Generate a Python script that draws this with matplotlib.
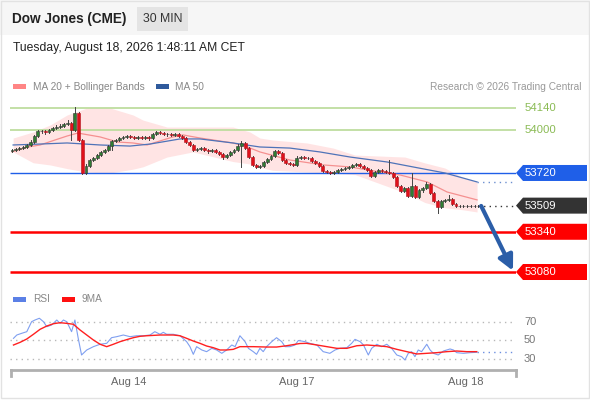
import numpy as np
import matplotlib
matplotlib.use("Agg")
import matplotlib.pyplot as plt
import matplotlib.transforms as mtrans
from matplotlib.patches import Rectangle, Polygon

plt.rcParams['font.family'] = ['Liberation Sans', 'DejaVu Sans']

# ---- data ----
opens = [53862, 53869, 53875, 53881, 53888, 53901, 53920, 53959, 53991, 53991,
         53985, 53998, 54011, 54017, 54024, 54037, 54043, 53998, 54108, 53933,
         53720, 53765, 53804, 53817, 53836, 53856, 53869, 53894, 53927, 53933,
         53946, 53953, 53959, 53953, 53946, 53953, 53946, 53953, 53946, 53972,
         53985, 53978, 53972, 53972, 53966, 53972, 53959, 53946, 53920, 53901,
         53869, 53875, 53881, 53869, 53862, 53869, 53856, 53843, 53823, 53836,
         53856, 53869, 53894, 53914, 53881, 53823, 53772, 53759, 53765, 53791,
         53810, 53830, 53862, 53849, 53804, 53785, 53778, 53772, 53817, 53823,
         53817, 53817, 53798, 53785, 53765, 53733, 53726, 53720, 53726, 53739,
         53746, 53752, 53759, 53772, 53778, 53765, 53752, 53739, 53700, 53726,
         53739, 53733, 53726, 53720, 53694, 53636, 53604, 53623, 53571, 53636,
         53565, 53610, 53623, 53649, 53591, 53539, 53500, 53539, 53546, 53552,
         53520, 53507, 53507, 53507, 53507, 53507, 53507]
closes = [53869, 53875, 53881, 53888, 53901, 53920, 53959, 53991, 53991, 53985,
          53998, 54011, 54017, 54024, 54037, 54043, 53998, 54108, 53933, 53720,
          53765, 53804, 53817, 53836, 53856, 53869, 53894, 53927, 53933, 53946,
          53953, 53959, 53953, 53946, 53953, 53946, 53953, 53946, 53972, 53985,
          53978, 53972, 53972, 53966, 53972, 53959, 53946, 53920, 53901, 53869,
          53875, 53881, 53869, 53862, 53869, 53856, 53843, 53823, 53836, 53856,
          53869, 53894, 53914, 53881, 53823, 53772, 53759, 53765, 53791, 53810,
          53830, 53862, 53849, 53804, 53785, 53778, 53772, 53817, 53823, 53817,
          53817, 53798, 53785, 53765, 53733, 53726, 53720, 53726, 53739, 53746,
          53752, 53759, 53772, 53778, 53765, 53752, 53739, 53700, 53726, 53739,
          53733, 53726, 53720, 53694, 53636, 53604, 53623, 53571, 53636, 53565,
          53610, 53623, 53649, 53591, 53539, 53500, 53539, 53546, 53552, 53520,
          53507, 53507, 53507, 53507, 53507, 53507, 53509]
highs = [53878, 53884, 53890, 53897, 53910, 53930, 53966, 54000, 54000, 53998,
         54007, 54020, 54028, 54034, 54046, 54060, 54050, 54146, 54115, 53940,
         53775, 53812, 53825, 53845, 53865, 53878, 53902, 53935, 53942, 53954,
         53962, 53968, 53966, 53960, 53960, 53960, 53962, 53960, 53980, 53992,
         53992, 53986, 53980, 53978, 53980, 53978, 53965, 53952, 53926, 53908,
         53884, 53890, 53888, 53876, 53878, 53875, 53862, 53850, 53845, 53865,
         53878, 53905, 53925, 53920, 53888, 53830, 53780, 53772, 53800, 53818,
         53838, 53870, 53870, 53855, 53810, 53792, 53785, 53830, 53830, 53830,
         53826, 53824, 53804, 53792, 53770, 53740, 53732, 53734, 53746, 53754,
         53760, 53766, 53780, 53786, 53785, 53770, 53758, 53746, 53734, 53746,
         53746, 53740, 53804, 53728, 53700, 53645, 53632, 53630, 53720, 53642,
         53618, 53630, 53660, 53656, 53598, 53546, 53546, 53554, 53575, 53558,
         53526, 53513, 53513, 53513, 53513, 53513, 53515]
lows = [53855, 53862, 53868, 53875, 53882, 53895, 53914, 53953, 53980, 53975,
        53978, 53990, 54004, 54010, 54017, 54030, 53933, 53990, 53925, 53715,
        53714, 53758, 53797, 53810, 53830, 53849, 53862, 53866, 53920, 53927,
        53940, 53946, 53944, 53938, 53940, 53938, 53940, 53935, 53940, 53965,
        53970, 53965, 53962, 53958, 53960, 53952, 53938, 53912, 53894, 53860,
        53862, 53868, 53860, 53852, 53855, 53848, 53835, 53810, 53815, 53830,
        53850, 53862, 53759, 53872, 53815, 53765, 53750, 53750, 53758, 53784,
        53803, 53823, 53840, 53796, 53778, 53770, 53765, 53765, 53810, 53810,
        53808, 53790, 53778, 53758, 53726, 53718, 53714, 53714, 53720, 53732,
        53740, 53746, 53752, 53765, 53758, 53745, 53730, 53692, 53694, 53720,
        53726, 53718, 53712, 53686, 53628, 53596, 53596, 53565, 53565, 53558,
        53558, 53600, 53615, 53584, 53530, 53461, 53492, 53530, 53540, 53512,
        53500, 53500, 53500, 53500, 53500, 53500, 53500]

ma20_x = [0, 4.3, 7.6, 11.6, 14.9, 17.8, 23.8, 28.6, 32.7, 36.5, 43.5, 46.2,
          50.8, 59.7, 63.0, 67.0, 75.1, 84.1, 91.4, 99.5, 104.9, 112.2, 117.6, 125.7]
ma20_v = [53856, 53888, 53901, 53933, 53959, 53978, 53953, 53920, 53914, 53901,
          53953, 53966, 53946, 53914, 53894, 53856, 53804, 53772, 53759, 53726,
          53707, 53662, 53597, 53546]

ma50_x = [0.3, 7.6, 14.9, 23.8, 31.9, 37.3, 45.4, 50.8, 59.7, 67.0, 75.1, 83.2,
          91.4, 101.4, 108.4, 117.0, 125.7]
ma50_v = [53901, 53907, 53914, 53901, 53894, 53907, 53940, 53940, 53914, 53888,
          53881, 53856, 53823, 53791, 53759, 53720, 53662]

bb_up_x = [0.3, 5.7, 10.3, 14.9, 20.3, 26.5, 32.7, 35.4, 41.9, 48.9, 59.7, 64.3,
           67.0, 70.5, 79.7, 86.8, 92.7, 106.2, 111.6, 117.0, 121.6, 125.7]
bb_up_v = [53946, 53985, 54030, 54095, 54140, 54140, 54095, 54062, 54017, 54017,
           54017, 53985, 53946, 53933, 53914, 53881, 53836, 53823, 53785, 53752,
           53694, 53662]
bb_lo_x = [0.3, 4.1, 10.3, 19.2, 26.5, 34.6, 41.9, 47.3, 55.4, 63.5, 68.9, 79.7,
           85.9, 94.1, 101.6, 108.1, 115.1, 122.4, 125.7]
bb_lo_v = [53856, 53791, 53772, 53726, 53720, 53752, 53823, 53869, 53804, 53785,
           53739, 53726, 53720, 53707, 53675, 53558, 53500, 53481, 53468]

rsi_x = [0.4, 1.3, 2.6, 4.0, 5.3, 6.2, 7.4, 8.5, 9.4, 10.7, 12.1, 13.0, 13.9, 14.8,
         16.1, 17.0, 17.9, 18.8, 20.2, 22.0, 23.8, 25.6, 26.9, 28.3, 30.1, 31.9,
         33.7, 35.5, 37.3, 38.6, 40.0, 40.9, 41.8, 43.6, 45.4, 47.2, 48.1, 49.0,
         49.9, 51.3, 52.6, 54.0, 55.3, 56.7, 58.0, 59.4, 60.3, 61.6, 63.0, 63.9,
         65.2, 66.1, 67.0, 67.9, 68.8, 70.2, 71.5, 72.9, 73.8, 75.1, 76.5, 77.4,
         79.2, 80.5, 82.4, 84.1, 85.9, 87.3, 88.6, 90.5, 91.8, 92.7, 94.1, 95.0,
         96.3, 97.2, 98.6, 99.9, 101.3, 102.6, 104.0, 105.3, 106.2, 107.1, 108.0,
         108.9, 109.8, 110.7, 112.1, 113.0, 113.9, 115.2, 116.6, 118.4, 119.3,
         120.2, 122.0, 123.8, 125.6]
rsi_v = [51.8, 55.4, 57.2, 59.0, 69.8, 71.6, 73.5, 69.8, 64.4, 66.2, 71.6, 68.0, 71.6,
         69.8, 59.0, 71.6, 51.8, 33.8, 39.2, 42.8, 45.4, 46.4, 52.5, 53.6, 55.4, 53.6,
         54.6, 54.6, 55.4, 59.0, 56.2, 58.3, 56.2, 56.2, 54.6, 48.2, 42.8, 34.5,
         42.8, 39.2, 37.4, 41.0, 39.2, 35.6, 39.2, 44.6, 42.8, 54.6, 48.2, 41.0,
         37.4, 34.5, 41.0, 37.4, 42.8, 48.2, 52.5, 48.2, 42.8, 42.8, 44.6, 49.5,
         48.2, 46.4, 44.6, 37.4, 35.6, 39.2, 41.0, 41.7, 46.4, 50.7, 48.2, 44.6,
         33.8, 41.0, 45.4, 42.8, 45.4, 41.0, 33.8, 32.0, 28.4, 35.6, 37.4,
         32.0, 39.2, 37.4, 45.4, 39.2, 35.6, 33.8, 38.1, 40.3, 39.2,
         36.3, 35.6, 36.3, 36.7]

ma9_x = [0.4, 2.2, 4.0, 5.8, 7.6, 9.4, 11.2, 13.0, 14.8, 16.6, 18.4, 20.2, 22.0,
         23.8, 25.6, 27.4, 29.2, 31.0, 32.8, 34.6, 36.4, 40.0, 43.6, 45.4, 47.2,
         49.0, 50.8, 52.6, 54.4, 56.2, 58.0, 59.8, 61.6, 65.2, 68.8, 71.5, 74.2,
         77.8, 79.6, 82.4, 85.1, 87.8, 90.5, 93.2, 95.9, 98.6, 101.3, 104.0, 106.7,
         109.4, 112.1, 114.8, 117.5, 120.2, 122.9, 125.6]
ma9_v = [44.6, 47.5, 51.1, 56.2, 61.6, 65.1, 67.6, 68.7, 68.0, 67.0, 60.8, 55.4, 50.0,
         45.4, 42.8, 45.4, 48.2, 50.4, 52.5, 54.0, 54.6, 55.4, 55.4, 54.6, 51.8,
         48.9, 46.4, 43.5, 41.7, 39.2, 39.2, 39.9, 42.8, 42.8, 42.4, 42.4, 43.8,
         46.2, 46.4, 44.6, 42.8, 41.0, 41.0, 43.8, 44.6, 43.8, 42.8, 39.9, 37.4,
         34.9, 35.6, 36.3, 37.4, 38.1, 37.4, 37.4]

levels = [54140, 54000, 53720, 53340, 53080]
last_price = 53509
rsi_ticks = [70, 50, 30]
day_pos = [31.6, 77.0, 122.7]
day_labels = ["Aug 14", "Aug 17", "Aug 18"]

# ---- figure ----
W, H = 590, 400
fig = plt.figure(figsize=(W / 100, H / 100), dpi=100)
fig.patch.set_facecolor("white")


def fx(px):
    return px / W


def fy(py):
    return 1 - py / H


# header band and border
fig.patches.append(Rectangle((0, fy(35)), 1, 35 / H, transform=fig.transFigure,
                             facecolor="#f6f6f6", edgecolor="none", zorder=0))
fig.patches.append(Rectangle((fx(137), fy(31)), 51 / W, 24 / H, transform=fig.transFigure,
                             facecolor="#e4e4e4", edgecolor="none", zorder=1))
fig.patches.append(Rectangle((fx(0.5), fy(398)), 588 / W, 397.5 / H, transform=fig.transFigure,
                             facecolor="none", edgecolor="#e2e2e2", lw=1, zorder=1))

fig.text(fx(12), fy(19), "Dow Jones (CME)", fontsize=9.8, fontweight="bold",
         color="#222222", va="center")
fig.text(fx(162.5), fy(19), "30 MIN", fontsize=8.8, color="#333333", va="center", ha="center")
fig.text(fx(13), fy(48), "Tuesday, August 18, 2026 1:48:11 AM CET", fontsize=8.7,
         color="#222222", va="center")

# legends
fig.patches.append(Rectangle((fx(13), fy(89)), 13 / W, 5 / H, transform=fig.transFigure,
                             facecolor="#ff8585", edgecolor="none"))
fig.text(fx(33), fy(86.5), "MA 20 + Bollinger Bands", fontsize=7.3, color="#888888", va="center")
fig.patches.append(Rectangle((fx(156), fy(89)), 13 / W, 5 / H, transform=fig.transFigure,
                             facecolor="#2f5a9c", edgecolor="none"))
fig.text(fx(175), fy(86.5), "MA 50", fontsize=7.3, color="#888888", va="center")
fig.text(fx(581), fy(86.5), "Research \u00a9 2026 Trading Central", fontsize=7.3,
         color="#999999", va="center", ha="right")

fig.patches.append(Rectangle((fx(13), fy(301.5)), 13 / W, 5 / H, transform=fig.transFigure,
                             facecolor="#5b80e6", edgecolor="none"))
fig.text(fx(33), fy(299), "RSI", fontsize=7.3, color="#888888", va="center")
fig.patches.append(Rectangle((fx(62), fy(301.5)), 13 / W, 5 / H, transform=fig.transFigure,
                             facecolor="#ff1010", edgecolor="none"))
fig.text(fx(82), fy(299), "9MA", fontsize=7.3, color="#888888", va="center")

# ---- price panel ----
x0_idx, px_per = 12, 3.7
xl = ((10 - x0_idx) / px_per, (516 - x0_idx) / px_per)
ax = fig.add_axes([fx(10), fy(285), 506 / W, 190 / H])
ax.set_xlim(*xl)
ax.set_ylim(52996, 54224)
ax.axis("off")

ax.fill_between(bb_up_x, bb_up_v, np.interp(bb_up_x, bb_lo_x, bb_lo_v),
                color="#ffdede", alpha=0.8, lw=0, zorder=1)
ax.plot(ma20_x, ma20_v, color="#f59090", lw=0.9, zorder=2)
ax.plot(ma50_x, ma50_v, color="#4f73b8", lw=0.9, zorder=2)

for lv, col, lw in [(54140, "#bedd9f", 1.3), (54000, "#bedd9f", 1.3),
                    (53720, "#1f5fe8", 1.0), (53340, "#ff0000", 1.8), (53080, "#ff0000", 1.8)]:
    ax.plot(xl, [lv, lv], color=col, lw=lw, zorder=1.5, solid_capstyle="butt")

xs = np.arange(len(closes))
for i in xs:
    o, c, h, l = opens[i], closes[i], highs[i], lows[i]
    up = c >= o
    ax.plot([i, i], [l, h], color="#444444", lw=0.7, zorder=3)
    hgt = c - o if abs(c - o) > 3 else 3
    ax.bar(i, hgt, bottom=o if abs(c - o) > 3 else o - 1.5, width=0.8,
           color="#2f7d32" if up else "#e0101a",
           edgecolor="#333333" if up else "#b0101a", lw=0.4, zorder=4)

# dotted continuation lines
ax.plot([ma50_x[-1], xl[1] - 1], [ma50_v[-1], ma50_v[-1]], color="#6d8fd0", lw=1,
        ls=(0, (1, 3)), zorder=2)
ax.plot([len(closes) - 1, xl[1]], [last_price, last_price], color="#333333", lw=1,
        ls=(0, (1, 3)), zorder=2)

# forecast arrow
ax.annotate("", xy=(135.4, 53088), xytext=(126.8, 53507),
            arrowprops=dict(arrowstyle="-|>,head_length=0.9,head_width=0.45",
                            color="#2b5ea8", lw=3, shrinkA=0, shrinkB=0), zorder=6)

# level tags
trans = mtrans.blended_transform_factory(fig.transFigure, ax.transData)
half = 8 * 1060 / 164
for lv, bg in [(53720, "#1f5fe8"), (last_price, "#333333"), (53340, "#ff0000"), (53080, "#ff0000")]:
    poly = Polygon([(fx(516), lv), (fx(523), lv + half), (fx(587), lv + half),
                    (fx(587), lv - half), (fx(523), lv - half)],
                   closed=True, transform=trans, facecolor=bg, edgecolor="none",
                   clip_on=False, zorder=7)
    ax.add_patch(poly)
    ax.text(fx(525), lv, str(lv), transform=trans, color="white", fontsize=8.2,
            va="center", ha="left", zorder=8, clip_on=False)
for lv in [54140, 54000]:
    ax.text(fx(525), lv, str(lv), transform=trans, color="#8bbb55", fontsize=8.2,
            va="center", ha="left", clip_on=False)

# ---- RSI panel ----
ax2 = fig.add_axes([fx(10), fy(370), 506 / W, 65 / H])
ax2.set_xlim(*xl)
ax2.set_ylim(17.57, 87.84)
ax2.axis("off")
for t in rsi_ticks:
    ax2.plot([xl[0], (512 - x0_idx) / px_per], [t, t], color="#b8b8b8", lw=1,
             ls=(0, (1, 3)), zorder=1)
    ax2.text(fx(524), t, str(t), transform=mtrans.blended_transform_factory(fig.transFigure, ax2.transData),
             color="#777777", fontsize=8, va="center", ha="left")
ax2.plot(rsi_x, rsi_v, color="#7f9ff0", lw=0.8, zorder=2)
ax2.plot(ma9_x, ma9_v, color="#ff2020", lw=1.0, zorder=3)
ax2.plot([rsi_x[-1], (512 - x0_idx) / px_per], [rsi_v[-1], rsi_v[-1]], color="#6d8fe0",
         lw=1, ls=(0, (1, 3)), zorder=2)

# bottom time axis
axline_y = fy(370)
fig.lines.append(plt.Line2D([fx(11), fx(516)], [axline_y, axline_y], transform=fig.transFigure,
                            color="#b0b0b0", lw=2))
for xe in (11, 516):
    fig.lines.append(plt.Line2D([fx(xe), fx(xe)], [axline_y, fy(376)], transform=fig.transFigure,
                                color="#b0b0b0", lw=2))
tr3 = mtrans.blended_transform_factory(ax2.transData, fig.transFigure)
for p, lab in zip(day_pos, day_labels):
    ax2.text(p, fy(382), lab, transform=tr3, color="#666666", fontsize=8,
             ha="center", va="center", clip_on=False)

fig.savefig("out.png", dpi=100)
